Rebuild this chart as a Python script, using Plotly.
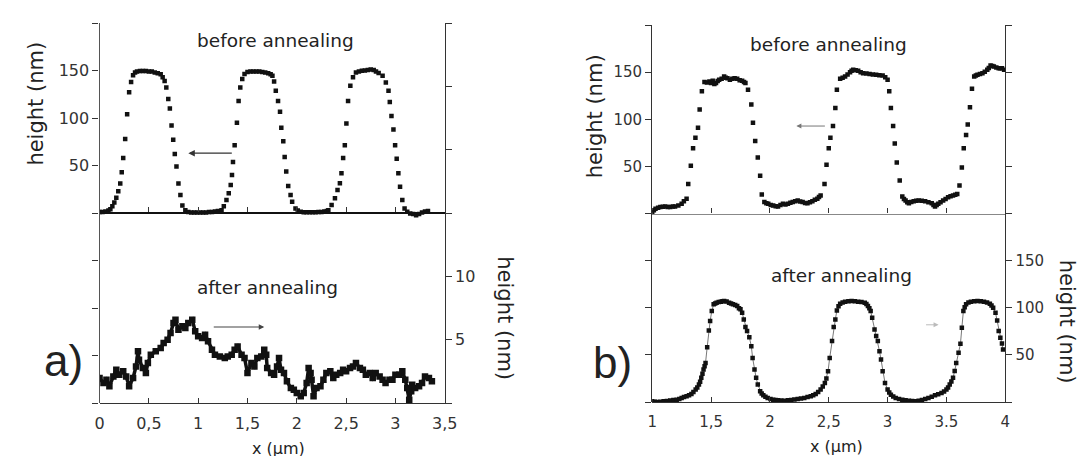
import plotly.graph_objects as go

W, H = 1086, 456

# ---------------- data (x in µm, height in nm) ----------------
before_a = [
    (0.00, 1), (0.03, 1), (0.06, 1.5), (0.09, 2.5), (0.11, 4), (0.13, 7), (0.15, 11), (0.17, 16),
    (0.19, 23), (0.21, 31), (0.225, 43), (0.24, 58), (0.26, 78), (0.28, 104), (0.30, 127), (0.32, 138),
    (0.34, 145), (0.36, 148), (0.38, 149), (0.41, 149.5), (0.44, 149.5), (0.47, 149.5), (0.50, 149),
    (0.53, 149), (0.56, 148), (0.59, 147), (0.62, 146), (0.64, 143), (0.66, 139), (0.677, 132),
    (0.697, 120), (0.713, 110), (0.73, 92), (0.747, 77), (0.763, 62), (0.78, 49), (0.80, 31),
    (0.82, 19), (0.84, 8), (0.87, 3), (0.90, 1), (0.93, 0.5), (0.96, 0.5), (0.99, 0.5), (1.02, 0.5),
    (1.05, 0.5), (1.08, 0.5), (1.11, 1), (1.14, 1), (1.17, 1.5), (1.20, 2), (1.237, 3), (1.26, 7),
    (1.287, 13.6), (1.31, 20.7), (1.33, 29.5), (1.343, 40), (1.353, 53.6), (1.37, 71.3), (1.393, 95),
    (1.41, 118), (1.427, 132), (1.447, 141), (1.47, 146.3), (1.50, 148.5), (1.53, 149), (1.56, 149),
    (1.59, 149), (1.62, 149), (1.65, 148.5), (1.68, 148), (1.71, 147), (1.735, 146), (1.753, 144.5),
    (1.77, 138.5), (1.787, 128.6), (1.81, 118), (1.83, 106.7), (1.843, 89.7), (1.863, 75.5),
    (1.877, 58.9), (1.893, 43.7), (1.913, 28.5), (1.937, 18.9), (1.953, 11.8), (1.987, 4.7),
    (2.01, 2.5), (2.04, 1.2), (2.07, 0.8), (2.10, 0.8), (2.13, 0.8), (2.16, 0.8), (2.19, 0.8),
    (2.22, 1), (2.25, 1), (2.28, 1.5), (2.305, 2), (2.32, 3), (2.353, 8.3), (2.387, 15.4),
    (2.413, 24.2), (2.437, 31.3), (2.453, 41.9), (2.47, 57.8), (2.487, 71.3), (2.503, 94.3),
    (2.52, 118), (2.543, 133.9), (2.57, 142.8), (2.60, 148), (2.63, 149), (2.66, 149.8), (2.69, 150),
    (2.72, 150.5), (2.75, 151), (2.78, 150.5), (2.803, 149), (2.83, 147.5), (2.87, 144.5),
    (2.903, 137.5), (2.93, 128.6), (2.943, 116.9), (2.96, 102), (2.98, 87.9), (2.997, 71.3),
    (3.013, 57.1), (3.03, 41.9), (3.047, 27.7), (3.07, 13.6), (3.093, 4.7), (3.12, 1.2),
    (3.15, -0.5), (3.18, -1), (3.21, -2.5), (3.24, -1), (3.27, 0.5), (3.30, 1.5), (3.33, 2),
]

after_a = [
    (0.00, 1.97), (0.04, 1.58), (0.07, 1.84), (0.10, 1.32), (0.14, 2.10), (0.17, 2.63), (0.20, 2.24),
    (0.24, 2.50), (0.27, 2.10), (0.30, 1.32), (0.34, 1.97), (0.37, 2.89), (0.39, 4.08), (0.40, 3.42),
    (0.44, 2.76), (0.47, 2.37), (0.49, 3.16), (0.52, 3.81), (0.57, 4.08), (0.62, 4.34), (0.65, 4.74),
    (0.69, 5.00), (0.72, 5.53), (0.75, 6.31), (0.77, 6.58), (0.80, 5.79), (0.84, 6.05), (0.87, 5.92),
    (0.90, 6.31), (0.94, 6.58), (0.97, 5.66), (1.00, 5.26), (1.04, 5.13), (1.07, 5.39), (1.10, 4.87),
    (1.14, 4.21), (1.17, 3.81), (1.22, 3.68), (1.27, 3.55), (1.30, 3.68), (1.34, 3.81), (1.37, 4.21),
    (1.40, 4.47), (1.44, 3.81), (1.47, 3.55), (1.50, 2.37), (1.54, 3.16), (1.57, 2.89), (1.60, 3.55),
    (1.64, 3.68), (1.67, 4.21), (1.69, 3.81), (1.70, 2.76), (1.74, 2.37), (1.77, 2.24), (1.80, 2.89),
    (1.82, 3.55), (1.84, 2.63), (1.87, 2.37), (1.90, 1.71), (1.94, 1.18), (1.97, 1.05), (2.00, 0.79),
    (2.04, 0.53), (2.07, 0.79), (2.10, 1.58), (2.12, 2.76), (2.14, 2.37), (2.15, 1.84), (2.17, 0.53),
    (2.20, 1.18), (2.24, 1.32), (2.27, 1.84), (2.30, 2.37), (2.34, 2.50), (2.37, 1.97), (2.40, 2.24),
    (2.44, 2.37), (2.47, 2.63), (2.50, 2.50), (2.54, 2.76), (2.57, 2.89), (2.60, 3.16), (2.64, 2.76),
    (2.67, 2.63), (2.70, 2.24), (2.74, 2.37), (2.77, 1.97), (2.80, 2.37), (2.84, 2.10), (2.87, 1.84),
    (2.90, 1.58), (2.94, 1.84), (2.97, 1.84), (3.00, 2.24), (3.04, 2.24), (3.07, 2.50), (3.10, 1.84),
    (3.12, 1.18), (3.14, 0.26), (3.16, 0.92), (3.17, 1.45), (3.20, 1.18), (3.24, 1.32), (3.27, 1.58),
    (3.30, 2.10), (3.34, 1.97), (3.37, 1.71),
]

before_b = [
    (1.000, 1.5), (1.014, 3.5), (1.028, 5.0), (1.05, 6.0), (1.069, 6.8), (1.09, 7.2), (1.111, 7.5),
    (1.132, 7.0), (1.153, 6.8), (1.175, 7.3), (1.194, 7.5), (1.222, 8.5), (1.25, 10.3), (1.269, 13.1),
    (1.292, 15.6), (1.306, 31.4), (1.328, 50.7), (1.347, 69.3), (1.367, 80.5), (1.389, 91.0),
    (1.403, 110.3), (1.422, 129.6), (1.444, 139.4), (1.465, 139.0), (1.486, 140.1), (1.50, 138.5),
    (1.514, 140.8), (1.528, 137.5), (1.542, 138.4), (1.556, 140.5), (1.569, 141.9), (1.59, 143.0),
    (1.611, 145.4), (1.625, 144.0), (1.639, 143.6), (1.66, 142.0), (1.681, 142.9), (1.70, 143.5),
    (1.722, 142.9), (1.743, 141.5), (1.764, 140.8), (1.78, 139.5), (1.792, 138.4), (1.814, 131.4),
    (1.842, 115.6), (1.856, 96.3), (1.875, 77.0), (1.897, 59.4), (1.917, 40.1), (1.931, 20.1),
    (1.953, 12.1), (1.97, 11.0), (1.986, 10.3), (2.007, 9.0), (2.028, 8.5), (2.049, 7.8), (2.069, 7.5),
    (2.09, 9.0), (2.111, 10.3), (2.132, 9.6), (2.153, 10.3), (2.174, 11.5), (2.194, 12.1), (2.215, 13.0),
    (2.236, 13.8), (2.257, 12.8), (2.278, 12.1), (2.299, 11.2), (2.319, 11.0), (2.34, 12.0),
    (2.361, 13.1), (2.382, 14.5), (2.403, 15.6), (2.417, 17.5), (2.431, 19.1), (2.464, 31.4),
    (2.481, 51.7), (2.5, 69.3), (2.514, 80.5), (2.536, 92.8), (2.556, 112.0), (2.569, 131.4),
    (2.597, 142.9), (2.618, 144.0), (2.639, 145.4), (2.66, 147.5), (2.681, 150.0), (2.694, 151.5),
    (2.708, 152.4), (2.729, 152.0), (2.75, 151.4), (2.771, 150.0), (2.792, 148.9), (2.82, 148.5),
    (2.847, 147.9), (2.875, 147.5), (2.903, 147.2), (2.93, 146.8), (2.958, 146.5), (2.98, 144.5),
    (3.0, 141.9), (3.014, 129.6), (3.028, 112.0), (3.047, 92.8), (3.061, 74.2), (3.078, 54.2),
    (3.103, 34.9), (3.125, 18.0), (3.139, 15.5), (3.153, 13.8), (3.167, 12.0), (3.181, 11.0),
    (3.201, 12.2), (3.222, 13.1), (3.243, 13.5), (3.264, 13.8), (3.29, 13.5), (3.319, 13.1),
    (3.347, 12.0), (3.375, 11.0), (3.39, 9.0), (3.403, 7.5), (3.417, 9.0), (3.431, 10.3), (3.45, 12.0),
    (3.472, 13.8), (3.493, 15.5), (3.514, 17.3), (3.535, 18.2), (3.556, 19.1), (3.575, 20.0),
    (3.592, 20.8), (3.611, 29.6), (3.631, 48.9), (3.647, 69.3), (3.667, 83.3), (3.681, 94.5),
    (3.7, 112.8), (3.717, 132.4), (3.736, 145.4), (3.75, 146.5), (3.764, 147.2), (3.785, 148.0),
    (3.806, 148.9), (3.826, 150.5), (3.847, 152.4), (3.86, 154.5), (3.875, 157.0), (3.889, 156.5),
    (3.903, 155.9), (3.924, 155.0), (3.944, 154.2), (3.958, 154.0), (3.972, 154.2), (3.99, 152.5),
]

after_b = [
    (1.0, 0.7), (1.021, 0.3), (1.042, 0.0), (1.07, 0.3), (1.097, 0.7), (1.125, 1.0), (1.153, 1.5),
    (1.18, 2.0), (1.208, 2.5), (1.23, 3.3), (1.25, 4.3), (1.27, 5.2), (1.292, 6.1), (1.313, 7.2),
    (1.333, 8.5), (1.35, 10.5), (1.369, 13.2), (1.383, 15.5), (1.397, 18.5), (1.407, 21.5),
    (1.417, 25.6), (1.427, 30.0), (1.436, 34.4), (1.445, 38.0), (1.453, 41.5), (1.467, 58.2),
    (1.481, 75.9), (1.492, 85.9), (1.506, 96.5), (1.522, 103.6), (1.535, 104.5), (1.547, 105.3),
    (1.565, 106.0), (1.583, 106.4), (1.597, 107.0), (1.611, 107.1), (1.632, 106.5), (1.653, 105.3),
    (1.67, 104.5), (1.686, 103.6), (1.705, 103.0), (1.722, 101.8), (1.737, 99.5), (1.75, 98.3),
    (1.764, 94.7), (1.778, 87.6), (1.792, 79.5), (1.806, 75.2), (1.825, 68.8), (1.842, 59.2),
    (1.853, 46.8), (1.869, 34.4), (1.883, 25.6), (1.897, 18.5), (1.917, 11.4), (1.93, 9.0),
    (1.944, 7.1), (1.962, 5.5), (1.981, 4.3), (2.005, 3.2), (2.028, 2.5), (2.048, 2.1), (2.069, 1.8),
    (2.097, 1.6), (2.125, 1.45), (2.153, 1.8), (2.181, 2.2), (2.208, 2.7), (2.236, 3.2), (2.264, 3.7),
    (2.292, 4.3), (2.32, 5.2), (2.347, 6.1), (2.368, 7.2), (2.389, 8.5), (2.41, 10.5), (2.431, 13.2),
    (2.449, 16.5), (2.467, 20.2), (2.48, 25.0), (2.494, 32.6), (2.508, 46.8), (2.528, 64.6),
    (2.542, 79.5), (2.556, 87.6), (2.569, 97.2), (2.583, 101.5), (2.597, 104.3), (2.618, 105.5),
    (2.639, 106.4), (2.667, 107.0), (2.694, 107.1), (2.722, 106.8), (2.75, 106.4), (2.778, 106.0),
    (2.806, 105.3), (2.82, 104.0), (2.833, 101.8), (2.845, 99.5), (2.856, 96.5), (2.869, 89.4),
    (2.889, 77.0), (2.903, 69.9), (2.917, 64.6), (2.931, 53.9), (2.944, 45.1), (2.958, 32.6),
    (2.978, 20.2), (3.0, 13.2), (3.014, 10.0), (3.028, 7.8), (3.048, 5.8), (3.069, 4.3), (3.097, 3.3),
    (3.125, 2.5), (3.153, 1.9), (3.181, 1.45), (3.208, 1.0), (3.236, 0.74), (3.264, 1.3), (3.292, 2.2),
    (3.32, 3.2), (3.347, 4.3), (3.375, 5.6), (3.403, 7.1), (3.43, 8.3), (3.458, 9.6), (3.48, 11.2),
    (3.5, 13.2), (3.514, 15.5), (3.528, 18.5), (3.542, 21.8), (3.556, 25.6), (3.57, 33.0),
    (3.583, 41.5), (3.603, 52.2), (3.619, 61.7), (3.631, 78.7), (3.644, 96.5), (3.655, 100.5),
    (3.667, 103.6), (3.687, 105.5), (3.708, 106.4), (3.736, 107.0), (3.764, 107.1), (3.792, 106.8),
    (3.819, 106.4), (3.845, 105.5), (3.869, 104.3), (3.883, 102.5), (3.897, 100.0), (3.917, 94.7),
    (3.931, 86.5), (3.944, 75.2), (3.958, 68.1), (3.972, 62.0), (3.981, 55.7),
]

xticks_a = [0, 0.5, 1, 1.5, 2, 2.5, 3, 3.5]
xlabels_a = ["0", "0,5", "1", "1,5", "2", "2,5", "3", "3,5"]
xticks_b = [1, 1.5, 2, 2.5, 3, 3.5, 4]
xlabels_b = ["1", "1,5", "2", "2,5", "3", "3.5", "4"]
# left axes (before annealing) span both halves: -200..200, labelled 50/100/150
left_ticks = [-200, -150, -100, -50, 0, 50, 100, 150, 200]
left_labels = ["", "", "", "", "", "50", "100", "150", ""]
# panel a right axis (after annealing): 0..30 nm, labelled 5 and 10
a_right_ticks = [0, 5, 10, 15, 20, 25, 30]
a_right_labels = ["", "5", "10", "", "", "", ""]
# panel b right axis (after annealing): 0..400 nm, labelled 50, 100, 150
b_right_ticks = [0, 50, 100, 150, 200, 250, 300, 350, 400]
b_right_labels = ["", "50", "100", "150", "", "", "", "", ""]

TXT = "#222222"
AX = "#333333"
FONT = "DejaVu Sans"


def px(x):
    return x / W


def py(y):
    return 1 - y / H


def unzip(pairs):
    return [p[0] for p in pairs], [p[1] for p in pairs]


fig = go.Figure()

xa, ya = unzip(before_a)
fig.add_trace(go.Scatter(x=xa, y=ya, mode="markers", xaxis="x3", yaxis="y3",
                         marker=dict(symbol="square", size=4.5, color="#111111")))
xa2, ya2 = unzip(after_a)
fig.add_trace(go.Scatter(x=xa2, y=ya2, mode="lines+markers", xaxis="x", yaxis="y",
                         line=dict(color="#111111", width=3.5),
                         marker=dict(symbol="square", size=6.5, color="#111111")))
xb, yb = unzip(before_b)
fig.add_trace(go.Scatter(x=xb, y=yb, mode="markers", xaxis="x4", yaxis="y4",
                         marker=dict(symbol="square", size=4.5, color="#111111")))
xb2, yb2 = unzip(after_b)
fig.add_trace(go.Scatter(x=xb2, y=yb2, mode="lines+markers", xaxis="x2", yaxis="y2",
                         line=dict(color="#555555", width=0.8),
                         marker=dict(symbol="square", size=4.5, color="#111111")))

common = dict(showgrid=False, zeroline=False, showline=True, linecolor=AX, linewidth=1.3,
              tickcolor=AX, fixedrange=True)


def tf(size):
    return dict(family=FONT, size=size, color=AX)


dom_xa = [px(88), px(439)]
dom_ya = [py(395), py(15)]
dom_xb = [px(650), px(1009)]
dom_yb = [py(394), py(17)]

fig.update_layout(
    width=W, height=H, autosize=False,
    margin=dict(l=0, r=0, t=0, b=0),
    paper_bgcolor="white", plot_bgcolor="rgba(0,0,0,0)",
    showlegend=False,
    font=dict(family=FONT, color=TXT),
    # ---- panel a: after annealing (bottom x axis + right y axis) ----
    xaxis=dict(domain=dom_xa, anchor="y", range=[0, 3.5], tickvals=xticks_a, ticktext=xlabels_a,
               ticks="inside", ticklen=5, ticklabelstandoff=6, tickfont=tf(16), **common),
    yaxis=dict(domain=dom_ya, anchor="x", side="right", range=[0, 30], tickvals=a_right_ticks,
               ticktext=a_right_labels, ticks="outside", ticklen=6, tickfont=tf(16), **common),
    # ---- panel a: before annealing (x axis on the zero line + left y axis) ----
    xaxis3=dict(domain=dom_xa, anchor="free", position=py(205), range=[0, 3.5], tickvals=xticks_a,
                ticks="inside", ticklen=5, showticklabels=False,
                **{**common, "linecolor": "#111111", "linewidth": 2}),
    yaxis3=dict(domain=dom_ya, anchor="x3", side="left", range=[-200, 200], tickvals=left_ticks,
                ticktext=left_labels, ticks="outside", ticklen=6, tickfont=tf(16),
                **{**common, "linecolor": "#555555"}),
    # ---- panel b: after annealing ----
    xaxis2=dict(domain=dom_xb, anchor="y2", range=[1, 4], tickvals=xticks_b, ticktext=xlabels_b,
                ticks="inside", ticklen=5, ticklabelstandoff=6, tickfont=tf(15), **common),
    yaxis2=dict(domain=dom_yb, anchor="x2", side="right", range=[0, 400], tickvals=b_right_ticks,
                ticktext=b_right_labels, ticks="outside", ticklen=6, tickfont=tf(15), **common),
    # ---- panel b: before annealing ----
    xaxis4=dict(domain=dom_xb, anchor="free", position=py(205.5), range=[1, 4], tickvals=xticks_b,
                ticks="inside", ticklen=5, showticklabels=False,
                **{**common, "linecolor": "#888888", "linewidth": 1.2}),
    yaxis4=dict(domain=dom_yb, anchor="x4", side="left", range=[-200, 200], tickvals=left_ticks,
                ticktext=left_labels, ticks="outside", ticklen=6, tickfont=tf(15), **common),
)


def label(text, x, y, size, angle=0, family=FONT):
    fig.add_annotation(text=text, x=px(x), y=py(y), xref="paper", yref="paper",
                       xanchor="center", yanchor="middle", showarrow=False, textangle=angle,
                       font=dict(family=family, size=size, color=TXT))


label("before annealing", 267, 32, 18.5)
label("after annealing", 259, 279, 18.5)
label("before annealing", 829, 36, 18.5)
label("after annealing", 842, 267, 18.5)
label("height (nm)", 23, 96, 21, -90)
label("height (nm)", 592, 108, 21, -90)
label("height (nm)", 500, 310, 21, 90)
label("height (nm)", 1072, 314, 21, 90)
label("x (µm)", 270, 440, 16)
label("x (µm)", 837, 438, 16)
label("a)", 51, 352, 44, family="Liberation Sans")
label("b)", 610, 354, 44, family="Liberation Sans")

# arrows pointing to the axis each curve belongs to
fig.add_annotation(x=0.90, y=63, xref="x3", yref="y3", text="", showarrow=True, ax=45, ay=0,
                   arrowhead=2, arrowsize=1, arrowwidth=1.3, arrowcolor="#333333")
fig.add_annotation(x=1.67, y=6.0, xref="x", yref="y", text="", showarrow=True, ax=-52, ay=0,
                   arrowhead=2, arrowsize=1, arrowwidth=1.1, arrowcolor="#444444")
fig.add_annotation(x=2.225, y=92.8, xref="x4", yref="y4", text="", showarrow=True, ax=30, ay=0,
                   arrowhead=2, arrowsize=1, arrowwidth=1.0, arrowcolor="#777777")
fig.add_annotation(x=3.433, y=81.9, xref="x2", yref="y2", text="", showarrow=True, ax=-14, ay=0,
                   arrowhead=2, arrowsize=1, arrowwidth=1.0, arrowcolor="#bbbbbb")

fig.write_html("out.html")
